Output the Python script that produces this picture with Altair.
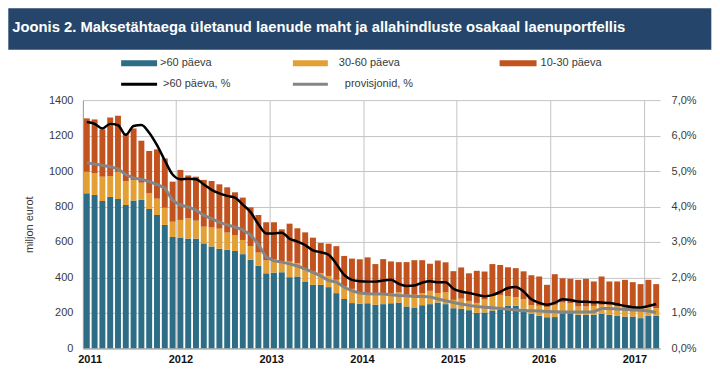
import altair as alt
import pandas as pd

# ---------------- data ----------------
YEARS = [2011, 2012, 2013, 2014, 2015, 2016, 2017]
N_MONTHS = 74
MONTHS = [f"{y}-{m:02d}" for y in YEARS for m in range(1, 13)][:N_MONTHS]

SERIES = [">60 päeva", "30-60 päeva", "10-30 päeva"]
LINE_SERIES = [">60 päeva, %", "provisjonid, %"]

GT60 = [874, 865, 831, 854, 842, 808, 833, 837, 786, 752, 696, 628,
        625, 619, 619, 592, 574, 561, 555, 549, 531, 499, 465, 423,
        427, 429, 401, 405, 377, 358, 358, 345, 311, 278, 255, 252,
        254, 245, 249, 254, 258, 236, 230, 243, 249, 258, 249, 226,
        223, 215, 200, 202, 213, 218, 239, 240, 224, 194, 183, 175,
        176, 198, 198, 189, 189, 189, 194, 189, 183, 179, 179, 170,
        183, 183]
D30_60 = [122, 122, 137, 118, 154, 134, 116, 97, 88, 92, 97, 86,
          99, 114, 101, 94, 107, 114, 98, 90, 80, 78, 75, 74,
          75, 60, 88, 74, 64, 74, 65, 63, 75, 70, 80, 63,
          57, 60, 57, 57, 57, 66, 72, 68, 75, 53, 66, 47,
          57, 52, 56, 73, 88, 83, 55, 48, 53, 50, 57, 56,
          69, 60, 56, 47, 47, 50, 51, 56, 53, 60, 57, 66,
          53, 43]
D10_30 = [301, 304, 267, 330, 316, 270, 291, 237, 239, 278, 278, 226,
          282, 242, 248, 264, 263, 250, 255, 241, 239, 218, 212, 214,
          209, 182, 214, 198, 213, 192, 171, 182, 190, 173, 171, 187,
          202, 170, 197, 179, 171, 184, 195, 186, 153, 184, 170, 162,
          176, 156, 181, 158, 174, 169, 163, 164, 157, 168, 165, 127,
          173, 137, 138, 150, 156, 138, 160, 132, 141, 147, 137, 126,
          150, 136]
PCT_GT60 = [6.38, 6.33, 6.20, 6.33, 6.29, 6.02, 6.27, 6.30, 6.08, 5.73, 5.30, 4.90,
            4.77, 4.78, 4.77, 4.62, 4.47, 4.37, 4.30, 4.25, 4.05, 3.84, 3.50, 3.24,
            3.24, 3.26, 3.09, 3.01, 2.91, 2.76, 2.71, 2.64, 2.38, 2.07, 1.93, 1.89,
            1.88, 1.88, 1.91, 1.93, 1.82, 1.76, 1.77, 1.85, 1.89, 1.86, 1.86, 1.68,
            1.60, 1.56, 1.51, 1.47, 1.50, 1.59, 1.70, 1.73, 1.60, 1.38, 1.28, 1.23,
            1.28, 1.38, 1.36, 1.32, 1.31, 1.30, 1.29, 1.28, 1.24, 1.19, 1.16, 1.15,
            1.19, 1.25]
PCT_PROV = [5.23, 5.20, 5.16, 5.12, 5.06, 4.90, 4.80, 4.77, 4.70, 4.62, 4.52, 4.17,
            4.04, 3.99, 3.90, 3.75, 3.66, 3.55, 3.48, 3.42, 3.34, 3.20, 2.93, 2.57,
            2.47, 2.43, 2.38, 2.32, 2.24, 2.14, 2.04, 1.91, 1.87, 1.72, 1.62, 1.56,
            1.54, 1.53, 1.53, 1.51, 1.49, 1.48, 1.46, 1.46, 1.45, 1.39, 1.34, 1.29,
            1.25, 1.21, 1.18, 1.16, 1.14, 1.12, 1.10, 1.08, 1.06, 1.06, 1.05, 1.04,
            1.03, 1.02, 1.02, 1.02, 1.02, 1.03, 1.12, 1.12, 1.11, 1.10, 1.08, 1.07,
            1.05, 1.01]

TITLE = "Joonis 2. Maksetähtaega ületanud laenude maht ja allahindluste osakaal laenuportfellis"
Y_TITLE = "miljon eurot"
Y_TICKS = [0, 200, 400, 600, 800, 1000, 1200, 1400]
PCT_TICKS = [0, 1, 2, 3, 4, 5, 6, 7]

# ---------------- styles ----------------
BAR_COLORS = ["#2d6e86", "#e3a135", "#c2531f"]
BLACK = "#000000"
GREY = "#858585"
BANNER = "#25466a"
GRID = "#c4c4c4"
AXIS = "#a0a0a0"
TXT = "#3a3a3a"
FONT = "Liberation Sans"

# page-pixel layout (page has 8px margin)
PLOT_LEFT, PLOT_TOP = 82.7, 100.0
W, H = 578, 248.5


def px(x):
    return x - PLOT_LEFT


def py(y):
    return y - PLOT_TOP


# ---------------- tables ----------------
rows = []
for i, m in enumerate(MONTHS):
    for k, (s, arr) in enumerate(zip(SERIES, [GT60, D30_60, D10_30])):
        rows.append({"month": m, "series": s, "value": arr[i], "order": k})
df_bars = pd.DataFrame(rows)

df_black = pd.DataFrame({"month": MONTHS, "pct": PCT_GT60})
df_grey = pd.DataFrame({"month": MONTHS, "pct": PCT_PROV})

x_axis = alt.Axis(
    values=[f"{y}-01" for y in YEARS],
    labelExpr="substring(datum.value, 0, 4)",
    labelOffset={"expr": "3.3 - 2.8*(toNumber(substring(datum.value, 0, 4)) - 2011)"},
    bandPosition=-0.15,
    grid=True, gridColor=GRID, gridWidth=1,
    ticks=False, tickSize=0,
    domain=True, domainColor=AXIS,
    labelAngle=0, labelFont=FONT, labelFontSize=11, labelFontWeight="bold",
    labelColor="#111111", labelPadding=5, title=None,
)

bars = alt.Chart(df_bars).mark_bar().encode(
    x=alt.X("month:O", sort=MONTHS,
            scale=alt.Scale(paddingInner=0.24, paddingOuter=0.12),
            axis=x_axis),
    y=alt.Y("value:Q", stack="zero",
            scale=alt.Scale(domain=[0, 1400], nice=False),
            axis=alt.Axis(values=Y_TICKS, format="d", grid=True, gridColor=GRID,
                          ticks=False, tickSize=0, domain=True, domainColor=AXIS,
                          labelFont=FONT, labelFontSize=11, labelColor=TXT,
                          labelPadding=10, title=Y_TITLE, titleFont=FONT,
                          titleFontSize=11, titleFontWeight="normal",
                          titleColor=TXT, titlePadding=14)),
    color=alt.Color("series:N", scale=alt.Scale(domain=SERIES, range=BAR_COLORS),
                    legend=None),
    order=alt.Order("order:Q", sort="ascending"),
)

right_axis = alt.Axis(orient="right", values=PCT_TICKS, grid=False, ticks=False,
                      tickSize=0, domain=False,
                      labelExpr="replace(format(datum.value, '.1f'), '.', ',') + '%'",
                      labelFont=FONT, labelFontSize=11, labelColor=TXT,
                      labelPadding=11, title=None)

black = alt.Chart(df_black).mark_line(color=BLACK, strokeWidth=2.5,
                                      interpolate="monotone").encode(
    x=alt.X("month:O", sort=MONTHS),
    y=alt.Y("pct:Q", scale=alt.Scale(domain=[0, 7], nice=False), axis=right_axis),
)
grey = alt.Chart(df_grey).mark_line(color=GREY, strokeWidth=3).encode(
    x=alt.X("month:O", sort=MONTHS),
    y=alt.Y("pct:Q", scale=alt.Scale(domain=[0, 7], nice=False), axis=right_axis),
)
lines = alt.layer(grey, black)

one = pd.DataFrame({"k": [0]})

banner = alt.Chart(one).mark_rect(color=BANNER).encode(
    x=alt.value(px(8)), x2=alt.value(px(712)),
    y=alt.value(py(8)), y2=alt.value(py(49.5)),
)
title = alt.Chart(one).mark_text(align="left", baseline="middle", color="white",
                                 font=FONT, fontSize=14.8, fontWeight="bold").encode(
    x=alt.value(px(12)), y=alt.value(py(28)), text=alt.value(TITLE))

# legend layout (page px)
LEG_SYM_X = [(121, 157), (293, 328), (500, 537), (121, 157), (293, 328)]
LEG_TXT_X = [160, 339, 541, 163, 345]
LEG_Y = [63, 63, 63, 84, 84]
LEG_LABELS = SERIES + LINE_SERIES
LEG_COLORS = BAR_COLORS + [BLACK, GREY]
LEG_KIND = ["rect", "rect", "rect", "line", "line"]

legend_layers = []
for (x0, x1), tx, ly, lab, col, kind in zip(LEG_SYM_X, LEG_TXT_X, LEG_Y,
                                             LEG_LABELS, LEG_COLORS, LEG_KIND):
    if kind == "rect":
        sym = alt.Chart(one).mark_rect(color=col).encode(
            x=alt.value(px(x0)), x2=alt.value(px(x1)),
            y=alt.value(py(ly - 3)), y2=alt.value(py(ly + 3)))
    else:
        sym = alt.Chart(one).mark_rule(color=col, strokeWidth=3).encode(
            x=alt.value(px(x0)), x2=alt.value(px(x1)), y=alt.value(py(ly)))
    txt = alt.Chart(one).mark_text(align="left", baseline="middle", color=TXT,
                                   font=FONT, fontSize=11).encode(
        x=alt.value(px(tx)), y=alt.value(py(ly)), text=alt.value(lab))
    legend_layers += [sym, txt]

chart = alt.layer(bars, lines, banner, title, *legend_layers).resolve_scale(
    y="independent"
).properties(width=W, height=H, padding=0).configure_view(stroke=None)

chart.save("out.html", embed_options={"renderer": "svg", "actions": False})
